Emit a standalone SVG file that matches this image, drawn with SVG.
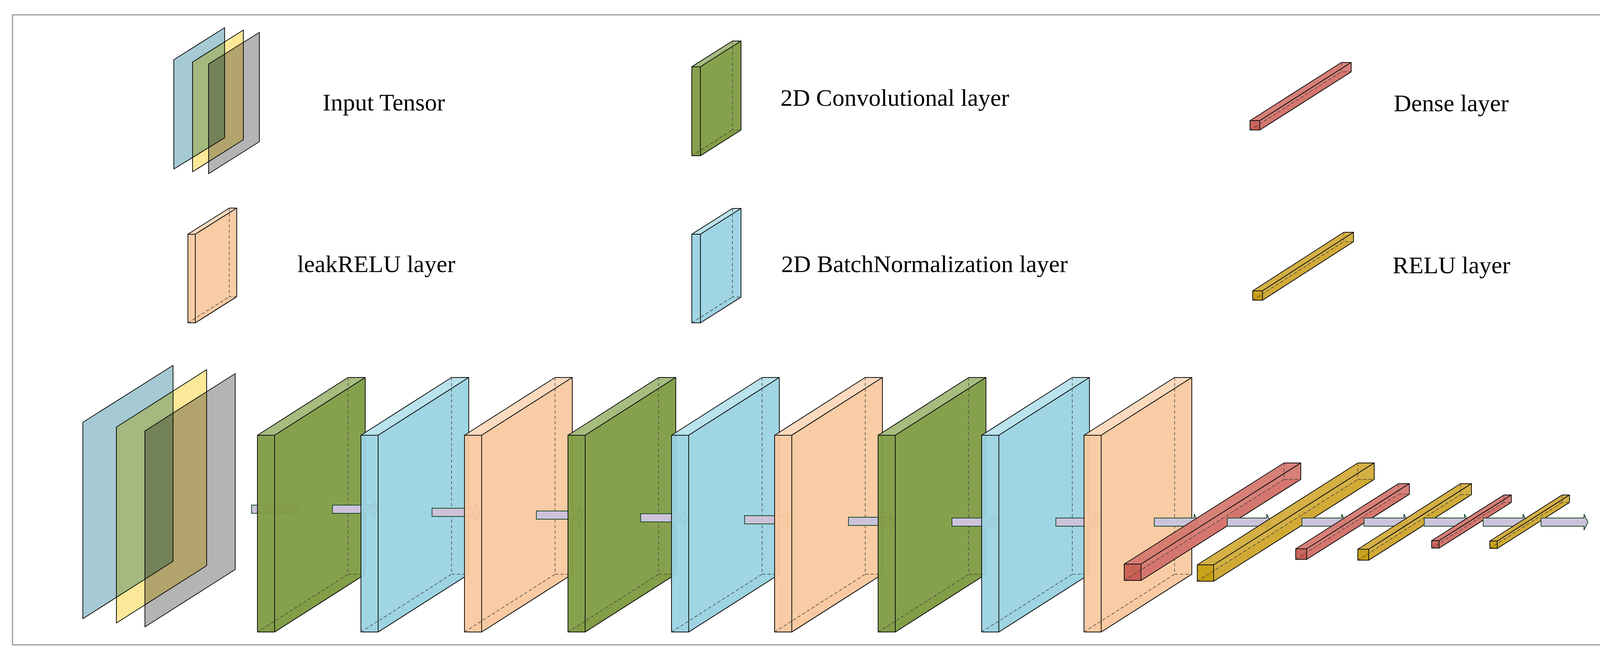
<svg xmlns="http://www.w3.org/2000/svg" width="4216" height="1701" viewBox="0 0 4216 1701">
<style>
text{font-family:"Liberation Serif","Times New Roman",serif;font-size:62px;fill:#000}
.e{stroke:#111;stroke-width:2;stroke-linejoin:round}
.d{fill:none;stroke:#444;stroke-width:1.5;stroke-dasharray:8 6}
.gF{fill:#7f9c45;fill-opacity:.95}.gT{fill:#a2b878;fill-opacity:.95}
.bF{fill:#9bd3e2;fill-opacity:.95}.bT{fill:#b6e1ec;fill-opacity:.95}
.oF{fill:#f9c9a0;fill-opacity:.95}.oT{fill:#fcd8bb;fill-opacity:.95}
.rF{fill:#c65a50;fill-opacity:.92}.rS{fill:#d4756c;fill-opacity:.92}
.yF{fill:#c39a08;fill-opacity:.92}.yS{fill:#d0a935;fill-opacity:.92}
.arr{fill:#ccc3db;stroke:#1d4a2a;stroke-width:2}
.pb{fill:#a5cad4;mix-blend-mode:multiply}.py{fill:#fde899;mix-blend-mode:multiply}.pg{fill:#b4b4b4;mix-blend-mode:multiply}
</style>
<defs>
<g id="plG"><polygon class="gT e" points="0,504 232,356 276,356 44,504"/><polygon class="gT e" points="0,0 232,-148 276,-148 44,0"/><polygon class="gF e" points="44,0 276,-148 276,356 44,504"/><rect class="gF e" x="0" y="0" width="44" height="504"/><path class="d" d="M232,-148V356H276M0,504L232,356"/></g>
<g id="plB"><polygon class="bT e" points="0,504 232,356 276,356 44,504"/><polygon class="bT e" points="0,0 232,-148 276,-148 44,0"/><polygon class="bF e" points="44,0 276,-148 276,356 44,504"/><rect class="bF e" x="0" y="0" width="44" height="504"/><path class="d" d="M232,-148V356H276M0,504L232,356"/></g>
<g id="plO"><polygon class="oT e" points="0,504 232,356 276,356 44,504"/><polygon class="oT e" points="0,0 232,-148 276,-148 44,0"/><polygon class="oF e" points="44,0 276,-148 276,356 44,504"/><rect class="oF e" x="0" y="0" width="44" height="504"/><path class="d" d="M232,-148V356H276M0,504L232,356"/></g>
</defs>
<rect x="0" y="0" width="4216" height="1701" fill="#fff"/>
<rect x="32" y="38" width="4134" height="1614" fill="none" stroke="#9a9a9a" stroke-width="3"/>
<g id="legend-input">
<polygon class="pb e" points="445,153 575,71 575,353 445,433"/>
<polygon class="py e" points="493,159 623,77 623,358 493,440"/>
<polygon class="pg e" points="534,164 664,83 664,363 534,445"/>
<text x="826" y="283">Input Tensor</text>
</g>
<g id="legend-conv">
<polygon class="gT e" points="1771,399 1875,333 1897,333 1793,399"/><polygon class="gT e" points="1771,171 1875,105 1897,105 1793,171"/><polygon class="gF e" points="1793,171 1897,105 1897,333 1793,399"/><rect class="gF e" x="1771" y="171" width="22" height="228"/><path class="d" d="M1875,105V333H1897M1771,399L1875,333"/>
<text x="1998" y="271">2D Convolutional layer</text>
</g>
<g id="legend-dense">
<polygon class="rS e" points="3200,333 3434,184 3459,184 3225,333"/><polygon class="rS e" points="3200,309 3434,160 3459,160 3225,309"/><polygon class="rS e" points="3225,309 3459,160 3459,184 3225,333"/><rect class="rF e" x="3200" y="309" width="25" height="24"/><path class="d" d="M3434,160V184H3459M3200,333L3434,184"/>
<text x="3568" y="285">Dense layer</text>
</g>
<g id="legend-leak">
<polygon class="oT e" points="481,827 587,760 606,760 500,827"/><polygon class="oT e" points="481,600 587,533 606,533 500,600"/><polygon class="oF e" points="500,600 606,533 606,760 500,827"/><rect class="oF e" x="481" y="600" width="19" height="227"/><path class="d" d="M587,533V760H606M481,827L587,760"/>
<text x="761" y="697">leakRELU layer</text>
</g>
<g id="legend-bn">
<polygon class="bT e" points="1771,827 1875,761 1897,761 1793,827"/><polygon class="bT e" points="1771,600 1875,534 1897,534 1793,600"/><polygon class="bF e" points="1793,600 1897,534 1897,761 1793,827"/><rect class="bF e" x="1771" y="600" width="22" height="227"/><path class="d" d="M1875,534V761H1897M1771,827L1875,761"/>
<text x="2000" y="697">2D BatchNormalization layer</text>
</g>
<g id="legend-relu">
<polygon class="yS e" points="3207,769 3440,619 3465,619 3232,769"/><polygon class="yS e" points="3207,745 3440,595 3465,595 3232,745"/><polygon class="yS e" points="3232,745 3465,595 3465,619 3232,769"/><rect class="yF e" x="3207" y="745" width="25" height="24"/><path class="d" d="M3440,595V619H3465M3207,769L3440,619"/>
<text x="3565" y="700">RELU layer</text>
</g>
<g id="input">
<polygon class="pb e" points="212,1082 443,936 443,1438 212,1585"/>
<polygon class="py e" points="298,1094 529,947 529,1449 298,1596"/>
<polygon class="pg e" points="371,1104 602,957 602,1459 371,1606"/>
</g>
<g id="connectors">
<path id="a1" class="arr" d="M644,1294H756V1284L766,1304.5L756,1325V1315H644Z"/>
</g>
<g id="conv1"><use href="#plG" x="659" y="1115"/></g>
<g id="connectors-2"><path class="arr" d="M851,1294H957V1284L967,1304.5L957,1325V1315H851Z"/></g>
<g id="bn1"><use href="#plB" x="924" y="1115"/></g>
<g id="connectors-3"><path class="arr" d="M1106,1302H1218V1292L1228,1312.5L1218,1333V1323H1106Z"/></g>
<g id="leak1"><use href="#plO" x="1189" y="1115"/></g>
<g id="connectors-4"><path class="arr" d="M1373,1309H1483V1299L1493,1319.5L1483,1340V1330H1373Z"/></g>
<g id="conv2"><use href="#plG" x="1454" y="1115"/></g>
<g id="connectors-5"><path class="arr" d="M1640,1316H1750V1306L1760,1326.5L1750,1347V1337H1640Z"/></g>
<g id="bn2"><use href="#plB" x="1719" y="1115"/></g>
<g id="connectors-6"><path class="arr" d="M1906,1321H2015V1311L2025,1331.5L2015,1352V1342H1906Z"/></g>
<g id="leak2"><use href="#plO" x="1983" y="1115"/></g>
<g id="connectors-7"><path class="arr" d="M2172,1325H2280V1315L2290,1335.5L2280,1356V1346H2172Z"/></g>
<g id="conv3"><use href="#plG" x="2248" y="1115"/></g>
<g id="connectors-8"><path class="arr" d="M2437,1327H2545V1317L2555,1337.5L2545,1358V1348H2437Z"/></g>
<g id="bn3"><use href="#plB" x="2513" y="1115"/></g>
<g id="connectors-9"><path class="arr" d="M2703,1327H2803V1317L2813,1337.5L2803,1358V1348H2703Z"/></g>
<g id="leak3"><use href="#plO" x="2775" y="1115"/></g>
<g id="connectors-10"><path class="arr" d="M2955,1327H3057V1317L3067,1337.5L3057,1358V1348H2955Z"/></g>
<g id="dense1">
<polygon class="rS e" points="2878,1487 3287,1228 3330,1228 2921,1487"/><polygon class="rS e" points="2878,1445 3287,1186 3330,1186 2921,1445"/><polygon class="rS e" points="2921,1445 3330,1186 3330,1228 2921,1487"/><rect class="rF e" x="2878" y="1445" width="43" height="42"/><path class="d" d="M3287,1186V1228H3330M2878,1487L3287,1228"/>
</g>
<g id="connectors-11"><path class="arr" d="M3142,1327H3243V1317L3253,1337.5L3243,1358V1348H3142Z"/></g>
<g id="relu1">
<polygon class="yS e" points="3065,1489 3476,1228 3518,1228 3107,1489"/><polygon class="yS e" points="3065,1447 3476,1186 3518,1186 3107,1447"/><polygon class="yS e" points="3107,1447 3518,1186 3518,1228 3107,1489"/><rect class="yF e" x="3065" y="1447" width="42" height="42"/><path class="d" d="M3476,1186V1228H3518M3065,1489L3476,1228"/>
</g>
<g id="connectors-12"><path class="arr" d="M3333,1327H3435V1317L3445,1337.5L3435,1358V1348H3333Z"/></g>
<g id="dense2">
<polygon class="rS e" points="3317,1433 3580,1266 3608,1266 3345,1433"/><polygon class="rS e" points="3317,1406 3580,1239 3608,1239 3345,1406"/><polygon class="rS e" points="3345,1406 3608,1239 3608,1266 3345,1433"/><rect class="rF e" x="3317" y="1406" width="28" height="27"/><path class="d" d="M3580,1239V1266H3608M3317,1433L3580,1266"/>
</g>
<g id="connectors-13"><path class="arr" d="M3492,1327H3594V1317L3604,1337.5L3594,1358V1348H3492Z"/></g>
<g id="relu2">
<polygon class="yS e" points="3476,1435 3739,1267 3767,1267 3504,1435"/><polygon class="yS e" points="3476,1407 3739,1239 3767,1239 3504,1407"/><polygon class="yS e" points="3504,1407 3767,1239 3767,1267 3504,1435"/><rect class="yF e" x="3476" y="1407" width="28" height="28"/><path class="d" d="M3739,1239V1267H3767M3476,1435L3739,1267"/>
</g>
<g id="connectors-14"><path class="arr" d="M3646,1327H3749V1317L3759,1337.5L3749,1358V1348H3646Z"/></g>
<g id="dense3">
<polygon class="rS e" points="3665,1404 3850,1287 3869,1287 3684,1404"/><polygon class="rS e" points="3665,1385 3850,1268 3869,1268 3684,1385"/><polygon class="rS e" points="3684,1385 3869,1268 3869,1287 3684,1404"/><rect class="rF e" x="3665" y="1385" width="19" height="19"/><path class="d" d="M3850,1268V1287H3869M3665,1404L3850,1287"/>
</g>
<g id="connectors-15"><path class="arr" d="M3797,1327H3899V1317L3909,1337.5L3899,1358V1348H3797Z"/></g>
<g id="relu3">
<polygon class="yS e" points="3814,1405 3999,1287 4018,1287 3833,1405"/><polygon class="yS e" points="3814,1386 3999,1268 4018,1268 3833,1386"/><polygon class="yS e" points="3833,1386 4018,1268 4018,1287 3833,1405"/><rect class="yF e" x="3814" y="1386" width="19" height="19"/><path class="d" d="M3999,1268V1287H4018M3814,1405L3999,1287"/>
</g>
<g id="connectors-16"><path class="arr" d="M3945,1327H4055V1317L4065,1337.5L4055,1358V1348H3945Z"/></g>
</svg>
